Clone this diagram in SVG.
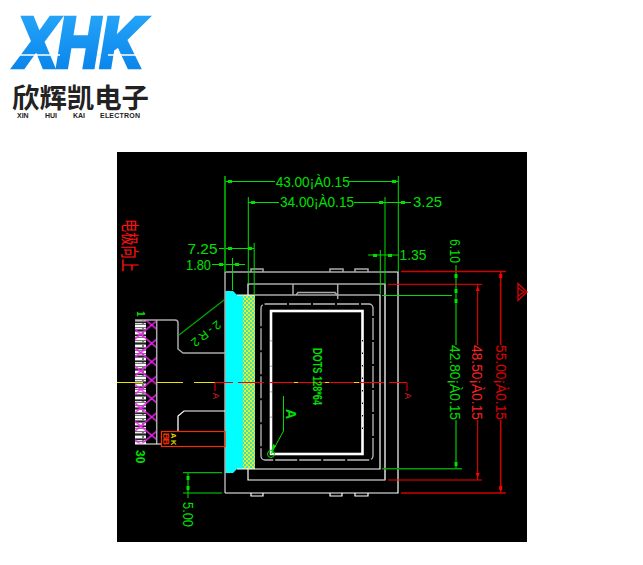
<svg xmlns="http://www.w3.org/2000/svg" width="643" height="565" viewBox="0 0 643 565">
<style>
.g{stroke:#00e000;fill:none;stroke-width:1}
.gd{stroke:#00a000;fill:none;stroke-width:1.5}
.r{stroke:#ff0000;fill:none;stroke-width:1}
.rd{stroke:#d00000;fill:none;stroke-width:1.5}
.w{stroke:#fff;fill:none;stroke-width:1.2}
.s{stroke:#aaa;fill:none;stroke-width:1.5}
.y{stroke:#e8e800;fill:none;stroke-width:1}
.tg{fill:#00e000;font-family:"Liberation Sans",sans-serif;font-size:15px}
.tr{fill:#ff2020;font-family:"Liberation Sans",sans-serif;font-size:15px}
.dot{fill:#00e000}
.dotr{fill:#ff0000}
</style>
<defs>
<linearGradient id="blue" gradientUnits="userSpaceOnUse" x1="0" y1="14" x2="0" y2="69"><stop offset="0" stop-color="#25a4f8"/><stop offset="1" stop-color="#0a86ec"/></linearGradient>
<pattern id="check" width="4" height="4" patternUnits="userSpaceOnUse"><rect width="4" height="4" fill="#e8f020"/><rect width="2" height="2" fill="#40e0c0"/><rect x="2" y="2" width="2" height="2" fill="#40e0c0"/></pattern>
<pattern id="pins" width="11" height="13" patternUnits="userSpaceOnUse"><rect width="11" height="13" fill="#777"/><rect x="0" y="0" width="11" height="2" fill="#fff"/><rect x="1" y="3" width="9" height="1" fill="#eee"/><rect x="0" y="5" width="11" height="1" fill="#222"/><rect x="1" y="7" width="9" height="2" fill="#fff"/><rect x="0" y="10" width="11" height="1" fill="#222"/><rect x="1" y="11" width="9" height="1" fill="#ddd"/></pattern>
<pattern id="lattice" width="22" height="18.4" patternUnits="userSpaceOnUse" patternTransform="translate(140.7 315.8)"><path d="M0 0L22 18.4M22 0L0 18.4" stroke="#f020f0" stroke-width="1.5" fill="none"/></pattern>
</defs>
<rect width="643" height="565" fill="#fff"/>

<g id="logo">
<text x="17" y="67" font-family="'Liberation Sans',sans-serif" font-weight="700" font-style="italic" font-size="71" fill="url(#blue)" stroke="url(#blue)" stroke-width="4.500" stroke-linejoin="miter" textLength="126" lengthAdjust="spacingAndGlyphs">XHK</text>
<path d="M12 55H60M108 55H148" stroke="#fff" stroke-width="1.300"/>
<text x="12" y="108" font-family="'Noto Sans CJK SC',sans-serif" font-weight="700" font-size="27" fill="#222" textLength="137" lengthAdjust="spacingAndGlyphs">欣辉凯电子</text>
<g font-family="'Liberation Sans',sans-serif" font-weight="700" font-size="7" fill="#222">
<text x="17" y="118">XIN</text><text x="45" y="118">HUI</text><text x="73" y="118">KAI</text><text x="100" y="118" textLength="40">ELECTRON</text>
</g>
</g>

<rect id="sheet" x="117" y="152" width="410" height="390" fill="#000"/>

<g id="panel">
<path d="M225 291H233L237 295H243V469H237L233 473H225Z" fill="#00ffff"/>
<rect x="243" y="295" width="12" height="174" fill="url(#check)"/>
<path class="s" d="M225 493V272H398"/>
<path class="w" d="M398 272V493H225M251 493v3h12v-3M330 493v3h12v-3M355 493v3h13v-3"/>
<path class="s" stroke-width="1" d="M251 272v-3h12v3M330 272v-3h13v3M355 272v-3h13v3"/>
<path class="w" d="M248 295V284H385V480H248V469"/>
<path class="s" d="M385 284V480"/>
<path class="w" stroke-width="1.500" d="M237 295H380V469H237"/>
<path class="s" d="M293 284V295M337.700 284V299M296 295l2-2.500H335l2 2.500"/>
<rect x="261" y="304" width="112" height="156" rx="4" fill="none" stroke="#bbb" stroke-width="1.300" stroke-dasharray="22 2"/>
<rect x="271" y="311" width="91.500" height="143" fill="none" stroke="#fff" stroke-width="2.600"/>
<path d="M362.500 340V440" stroke="#000" stroke-width="1" stroke-dasharray="1.500 11"/>
<path d="M271 340V440" stroke="#888" stroke-width="1" stroke-dasharray="1.500 24"/>
</g>

<g id="flex">
<rect x="135" y="320" width="11" height="124" fill="url(#pins)"/>
<rect x="135" y="320" width="22" height="124" fill="url(#lattice)"/>
<path d="M156.700 320V444" stroke="#aaa" stroke-width="1.500"/>
<path class="s" d="M135 320H175q3 0 3 3V349l5 4H225"/>
<path class="w" d="M225 411H184l-6 5V431M135 444H161"/>
<path class="s" stroke-width="1" d="M178 416V431"/>
<rect x="161.500" y="431.500" width="63.500" height="15" fill="none" stroke="#f03000" stroke-width="1.200"/>
<text transform="translate(163 433) rotate(90)" font-family="'Liberation Sans',sans-serif" font-size="9" font-weight="700" fill="#f03000" textLength="12">BB</text>
<text transform="translate(171 433) rotate(90)" font-family="'Liberation Sans',sans-serif" font-size="7.500" font-weight="700" fill="#e0d800">A</text>
<text transform="translate(171 440) rotate(90)" font-family="'Liberation Sans',sans-serif" font-size="7.500" font-weight="700" fill="#e0d800">K</text>
<text class="tg" style="font-size:10px;font-weight:700" transform="translate(137 311) rotate(90)">1</text>
<text class="tg" style="font-size:12px;font-weight:700" transform="translate(136 450) rotate(90)">30</text>
<path class="gd" stroke-width="1" d="M179 335L224 300"/>
<text class="tg" style="font-size:12px" transform="translate(217 320) rotate(142)" textLength="34">2-R2</text>
</g>

<g id="connectors">
<path class="y" d="M117 382.500H143M157 382.500H183M194 382.500H215"/>
<path class="r" d="M215 382.500H233M238 382.500H264M269 382.500H384M389 382.500H407V391M215 382.500V391"/>
<path d="M294 382.500h4M325 382.500h4M354 382.500h5" stroke="#e8e800" stroke-width="1.200"/>
<path class="g" d="M225 176V272M398.300 176V272M225 181.500H275M349 181.500H398M248.300 197V284M385 197V284M248 202.500H279M354 202.500H411"/>
<path class="g" d="M219 248.500H254M254.200 243V295M212 264.500H245M232.500 258V290M368 255H398M380.300 250V294"/>
<path class="g" d="M382 295.500H452M183 472.700H222M183 493H222M188 473V498"/>
<path class="gd" d="M382 468.700H462M225 176V272"/>
<path class="gd" stroke-width="1.200" d="M456 265V345M456 420V468"/>
<path class="rd" d="M401 271.500H506M401 493H506M500.700 272V345M500.700 420V493"/>
<path class="r" d="M388 284.300H482M388 480H482M477.700 284V345M477.700 420V480"/>
<g class="dot">
<rect x="228" y="180" width="4" height="3"/><rect x="392" y="180" width="4" height="3"/><rect x="251" y="201" width="4" height="3"/><rect x="379" y="201" width="4" height="3"/><rect x="401" y="201" width="4" height="3"/>
<rect x="228" y="247" width="4" height="3"/><rect x="248" y="247" width="4" height="3"/><rect x="219" y="263" width="4" height="3"/><rect x="235" y="263" width="4" height="3"/><rect x="373" y="254" width="4" height="3"/><rect x="388" y="254" width="4" height="3"/>
<rect x="454.500" y="274" width="3" height="4"/><rect x="454.500" y="289" width="3" height="4"/><rect x="454.500" y="299" width="3" height="4"/><rect x="454.500" y="462" width="3" height="4"/><rect x="186.500" y="476" width="3" height="4"/><rect x="186.500" y="486" width="3" height="4"/>
</g>
<g class="dotr">
<rect x="499.200" y="274" width="3" height="4"/><rect x="499.200" y="486" width="3" height="4"/><path d="M477.700 286l-2 5h4zM477.700 478l-2-5h4z"/>
</g>
<path class="g" d="M283.500 396V431L271 454"/>
<path d="M271 452l2-8 3 2z" fill="#00e000"/>
<circle cx="271" cy="454" r="3.500" fill="none" stroke="#00e000"/>
<path d="M518 283.500L527 292L518 300.500Z M518 288L524 292L518 296" fill="none" stroke="#e00000" stroke-width="1.300"/>
</g>

<g id="labels">
<text class="tg" x="275.700" y="186.700" textLength="74" lengthAdjust="spacingAndGlyphs">43.00¡À0.15</text>
<text class="tg" x="280" y="207.300" textLength="74" lengthAdjust="spacingAndGlyphs">34.00¡À0.15</text>
<text class="tg" x="413" y="207.300" textLength="29" lengthAdjust="spacingAndGlyphs">3.25</text>
<text class="tg" x="399.500" y="260.300" textLength="27" lengthAdjust="spacingAndGlyphs">1.35</text>
<text class="tg" x="187.500" y="254" textLength="30" lengthAdjust="spacingAndGlyphs">7.25</text>
<text class="tg" x="186" y="270" textLength="25" lengthAdjust="spacingAndGlyphs">1.80</text>
<text class="tg" transform="translate(450 345) rotate(90)" textLength="75" lengthAdjust="spacingAndGlyphs">42.80¡À0.15</text>
<text class="tr" transform="translate(472 345) rotate(90)" textLength="75" lengthAdjust="spacingAndGlyphs">48.50¡À0.15</text>
<text class="tr" style="fill:#e00000" transform="translate(496 345) rotate(90)" textLength="75" lengthAdjust="spacingAndGlyphs">55.00¡À0.15</text>
<text class="tg" transform="translate(450 239) rotate(90)" textLength="24" lengthAdjust="spacingAndGlyphs">6.10</text>
<text class="tg" transform="translate(183 502) rotate(90)" textLength="25" lengthAdjust="spacingAndGlyphs">5.00</text>
<text class="tg" style="font-size:12px;font-weight:700" transform="translate(313 348) rotate(90)" textLength="57" lengthAdjust="spacingAndGlyphs">DOTS 128*64</text>
<text class="tg" style="font-size:14px;font-weight:700" transform="translate(286 409) rotate(90)">A</text>
<text class="tr" style="font-size:9px" transform="translate(213 393) rotate(90)">A</text>
<text class="tr" style="font-size:9px" transform="translate(405 393) rotate(90)">A</text>
<text transform="translate(122.500 219) rotate(90)" font-family="'Noto Sans CJK SC',sans-serif" font-size="18" fill="#ff1010" textLength="53" lengthAdjust="spacingAndGlyphs">电极向上</text>
</g>
</svg>
